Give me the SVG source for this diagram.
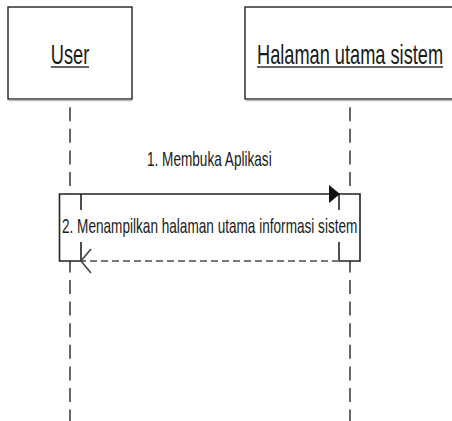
<svg xmlns="http://www.w3.org/2000/svg" width="452" height="421" viewBox="0 0 452 421">
<style>
.box{fill:#fff;stroke:#222;stroke-width:1.4}
.shadow{stroke:#bbb;stroke-width:1.5}
.title{font-family:"Liberation Sans",Arial,sans-serif;font-size:18.2px;fill:#1a1a1a}
.ul{stroke:#333;stroke-width:1.6}
.life{stroke:#666;stroke-width:2;stroke-dasharray:14 7.6;fill:none}
.msg{font-family:"Liberation Sans",Arial,sans-serif;font-size:13.6px;fill:#1a1a1a}
.solid{stroke:#222;stroke-width:1.6;fill:none}
.ret{stroke:#777;stroke-width:2.2;stroke-dasharray:7 4;fill:none}
</style>
<g id="connectors">
<line class="life" x1="70" y1="107.2" x2="70" y2="421"/>
<line class="life" x1="350" y1="107.2" x2="350" y2="421"/>
<rect x="59.5" y="194" width="300.5" height="67" fill="#fff"/>
<path class="solid" d="M81,261 H59.5 V194 H360 V261 H339"/>
<line class="solid" x1="81" y1="194" x2="81" y2="261"/>
<line class="solid" x1="339" y1="194" x2="339" y2="261"/>
<polygon points="329,185 340,194 329,203" fill="#111"/>
<line class="ret" x1="339" y1="261" x2="82" y2="261"/>
<polyline points="91,249 81,261 91,273" stroke="#444" stroke-width="1.6" fill="none"/>
<rect x="62" y="210" width="296" height="32" fill="#fff"/>
<text class="msg" transform="translate(147,166) scale(1,1.545)">1. Membuka Aplikasi</text>
<text class="msg" transform="translate(62,233) scale(1,1.545)">2. Menampilkan halaman utama informasi sistem</text>
</g>
<g id="user">
<rect class="box" x="8" y="7" width="124" height="92"/>
<line class="shadow" x1="9" y1="100.5" x2="132" y2="100.5"/>
<text class="title" transform="translate(50.8,64.3) scale(1,1.54)">User</text>
<line class="ul" x1="50.8" y1="67" x2="89" y2="67"/>
</g>
<g id="halaman">
<rect class="box" x="245" y="7" width="212" height="92"/>
<line class="shadow" x1="246" y1="100.5" x2="452" y2="100.5"/>
<text class="title" transform="translate(257,64.3) scale(1,1.54)">Halaman utama sistem</text>
<line class="ul" x1="257" y1="67" x2="443" y2="67"/>
</g>
</svg>
